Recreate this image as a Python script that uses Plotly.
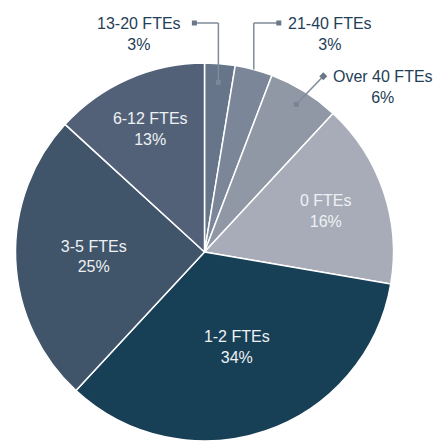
import math
import plotly.graph_objects as go

labels = ["13-20 FTEs", "21-40 FTEs", "Over 40 FTEs", "0 FTEs", "1-2 FTEs", "3-5 FTEs", "6-12 FTEs"]
values = [2.6, 3.2, 6.1, 15.8, 34.2, 24.9, 13.2]
colors = ["#66758a", "#7b8698", "#9097a5", "#a8acb8", "#173f56", "#40546a", "#536178"]
outside = ["13-20 FTEs", "21-40 FTEs", "Over 40 FTEs"]

W, H = 434, 441
CX, CY, R = 204.5, 252.0, 189.0
FONT = "Liberation Sans, Arial, sans-serif"
TEXT_DARK = "#1f4057"
LINE_COL = "#7f8a9a"

total = sum(values)


def px(x):
    return x / W


def py(y):
    return 1 - y / H


def mid_point(i, rf):
    cum = sum(values[:i])
    th = 2 * math.pi * (cum + values[i] / 2) / total
    r = R * rf
    return CX + r * math.sin(th), CY - r * math.cos(th)


positions = ["none" if l in outside else "inside" for l in labels]

fig = go.Figure(go.Pie(
    labels=labels, values=values, sort=False, direction="clockwise", rotation=0,
    marker=dict(colors=colors, line=dict(color="white", width=1.5)),
    textposition=positions, insidetextorientation="horizontal",
    texttemplate="%{label}<br>%{percent:.0%}",
    textfont=dict(family=FONT, size=16, color="#eef1f4"),
    domain=dict(x=[px(CX - R), px(CX + R)], y=[max(0.0, py(CY + R)), py(CY - R)]),
    hoverinfo="skip",
))

shapes = []
annotations = []


def seg(x0, y0, x1, y1):
    shapes.append(dict(type="line", xref="paper", yref="paper",
                       x0=px(x0), y0=py(y0), x1=px(x1), y1=py(y1),
                       line=dict(color=LINE_COL, width=1.5)))


def square(x, y, s, col):
    shapes.append(dict(type="rect", xref="paper", yref="paper",
                       x0=px(x - s / 2), y0=py(y - s / 2), x1=px(x + s / 2), y1=py(y + s / 2),
                       fillcolor=col, line=dict(width=0)))


def label(i, x, y, anchor):
    pct = round(values[i] / total * 100)
    annotations.append(dict(xref="paper", yref="paper", x=px(x), y=py(y + 10.5),
                            xanchor=anchor, yanchor="middle", showarrow=False,
                            text=f"{labels[i]}<br>{pct}%", align="center",
                            font=dict(family=FONT, size=16, color=TEXT_DARK)))


elbow_y = CY - R - 40

# 13-20 FTEs
i = 0
sx, sy = mid_point(i, 0.9)
ex = sx - 24
seg(sx, sy, sx, elbow_y)
seg(sx, elbow_y, ex, elbow_y)
square(sx, sy, 5, "#7d8797")
square(ex, elbow_y, 5, "#6b7788")
label(i, ex - 11, elbow_y, "right")

# 21-40 FTEs
i = 1
sx, sy = mid_point(i, 1.0)
ex = sx + 25
seg(sx, sy, sx, elbow_y)
seg(sx, elbow_y, ex, elbow_y)
square(ex, elbow_y, 5, "#6b7788")
label(i, ex + 7, elbow_y, "left")

# Over 40 FTEs
i = 2
sx, sy = mid_point(i, 0.92)
ex, ey = sx + 27, sy - 28
seg(sx, sy, ex, ey)
square(sx, sy, 5, "#7a8494")
shapes.append(dict(type="path", xref="paper", yref="paper",
                   path=f"M {px(ex)} {py(ey - 4)} L {px(ex + 4)} {py(ey)} L {px(ex)} {py(ey + 4)} L {px(ex - 4)} {py(ey)} Z",
                   fillcolor="#6b7788", line=dict(width=0)))
label(i, ex + 8, ey, "left")

fig.update_layout(
    width=W, height=H, margin=dict(l=0, r=0, t=0, b=0),
    paper_bgcolor="white", plot_bgcolor="white", showlegend=False,
    shapes=shapes, annotations=annotations,
)

fig.write_html("out.html", config={"displayModeBar": False},
               post_script="document.body.style.margin='0px';")
